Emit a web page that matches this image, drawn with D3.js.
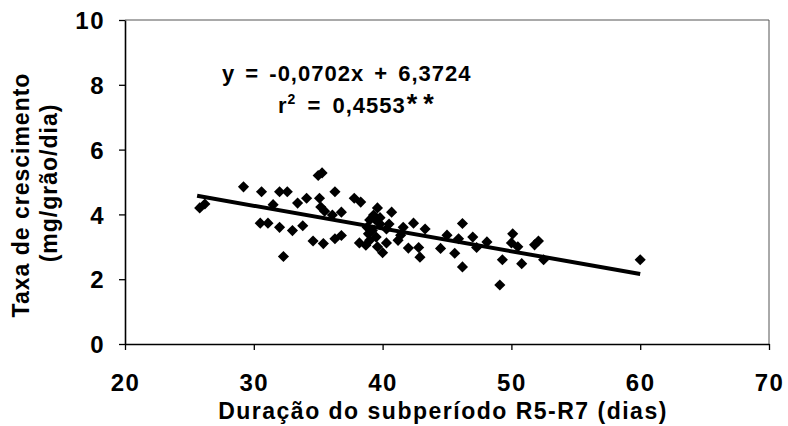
<!DOCTYPE html>
<html><head><meta charset="utf-8">
<script src="https://cdn.jsdelivr.net/npm/d3@7"></script>
<style>body{margin:0;background:#fff}svg{display:block}text{font-family:"Liberation Sans",Arial,sans-serif;font-weight:bold;fill:#000}</style>
</head><body><svg id="c" width="788" height="426"></svg>
<script>
const duration = [25.8,26.2,29.2,30.6,30.5,31.1,31.5,32.0,32.6,32.0,33.0,33.8,32.3,33.4,34.1,35.0,35.3,35.1,35.2,36.3,34.6,35.4,36.3,36.8,36.1,36.8,37.8,38.3,38.2,38.8,39.0,39.3,39.6,38.9,39.2,39.5,39.6,40.0,39.8,40.3,40.7,40.3,41.2,41.4,41.6,42.4,43.3,42.0,42.8,42.9,44.5,45.0,45.6,45.9,46.2,46.2,47.0,47.3,48.1,49.3,50.1,50.0,50.5,50.8,51.8,52.1,52.5,49.1,60.0,39.4,39.0,38.7,39.8,40.5,35.5];
const rate = [4.2,4.32,4.85,4.7,3.73,3.73,4.3,4.7,4.7,3.6,3.5,3.65,2.7,4.35,4.5,5.2,5.28,4.5,4.23,4.7,3.18,3.1,3.25,3.35,3.98,4.07,4.5,4.38,3.12,3.6,3.83,3.98,4.2,3.4,3.5,3.3,3.0,2.82,3.7,3.55,4.07,3.12,3.2,3.36,3.6,3.73,3.55,2.96,2.98,2.68,2.95,3.36,2.8,3.25,3.72,2.38,3.3,2.98,3.15,2.6,3.4,3.12,3.0,2.48,3.06,3.18,2.6,1.82,2.6,3.85,3.2,3.05,3.9,3.7,4.1];
const xTicks = [20,30,40,50,60,70];
const yTicks = [0,2,4,6,8,10];
const slope = -0.0702, intercept = 6.3724;
const fitRange = [25.6, 60];
const eqLine1 = "y = -0,0702x + 6,3724";
const eqR = "r", eqSup = "2", eqLine2 = " = 0,4553", eqStars = "**";
const xTitle = "Duração do subperíodo R5-R7 (dias)";
const yTitle1 = "Taxa de crescimento", yTitle2 = "(mg/grão/dia)";

const svg = d3.select("#c");
const x = d3.scaleLinear().domain([20,70]).range([125,769]);
const y = d3.scaleLinear().domain([0,10]).range([344,20]);

// frame (thin grey top/right)
svg.append("path").attr("d",`M${x(20)},${y(10)}H${x(70)}V${y(0)}`).attr("fill","none").attr("stroke","#555").attr("stroke-width",1);

const xa = svg.append("g").attr("transform",`translate(0,${y(0)})`)
  .call(d3.axisBottom(x).tickValues(xTicks).tickSize(6).tickSizeOuter(0).tickPadding(24));
const ya = svg.append("g").attr("transform",`translate(${x(20)},0)`)
  .call(d3.axisLeft(y).tickValues(yTicks).tickSize(6).tickSizeOuter(0).tickPadding(14));
[xa,ya].forEach(a=>{
  a.select(".domain").attr("stroke","#000").attr("stroke-width",1.6);
  a.selectAll(".tick line").attr("stroke","#000").attr("stroke-width",1.3);
  a.selectAll(".tick text").style("font-size","24px").style("font-family","Liberation Sans, Arial").style("font-weight","bold").style("letter-spacing","1.5px").attr("fill","#000");
});
ya.selectAll(".tick text").attr("dy","0.36em");

// regression line
svg.append("line")
  .attr("x1",x(fitRange[0])).attr("y1",y(intercept+slope*fitRange[0]))
  .attr("x2",x(fitRange[1])).attr("y2",y(intercept+slope*fitRange[1]))
  .attr("stroke","#000").attr("stroke-width",4);

// points
const pts = duration.map((d,i)=>({d, r: rate[i]}));
svg.append("g").selectAll("path").data(pts).join("path")
  .attr("d", d3.symbol(d3.symbolSquare, 62))
  .attr("transform", p=>`translate(${x(p.d)},${y(p.r)}) rotate(45)`)
  .attr("fill","#000");

// equation
svg.append("text").attr("x",222).attr("y",81).style("font-size","22px").style("letter-spacing","1px").style("word-spacing","3px").text(eqLine1);
const t2 = svg.append("text").attr("x",278).attr("y",113).style("font-size","22px").style("letter-spacing","1px").style("word-spacing","4px");
t2.append("tspan").text(eqR);
t2.append("tspan").attr("dy",-9).style("font-size","14px").text(eqSup);
t2.append("tspan").attr("dy",9).text(eqLine2);
t2.append("tspan").attr("dx",1).style("font-size","27px").style("letter-spacing","6px").text(eqStars);

// axis titles
svg.append("text").attr("x",443).attr("y",419).attr("text-anchor","middle").style("font-size","23px").style("letter-spacing","1.5px").text(xTitle);
svg.append("text").attr("transform","translate(29,195) rotate(-90)").attr("text-anchor","middle").style("font-size","23px").style("letter-spacing","1px").text(yTitle1);
svg.append("text").attr("transform","translate(57,183) rotate(-90)").attr("text-anchor","middle").style("font-size","23px").style("letter-spacing","1px").text(yTitle2);
</script></body></html>
